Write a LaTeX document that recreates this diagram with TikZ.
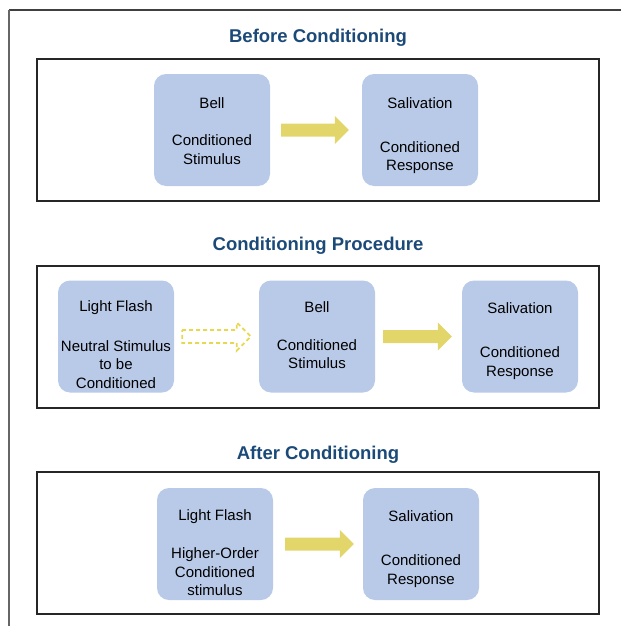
\documentclass[tikz,border=0pt]{standalone}
\usepackage{fontspec}
\setmainfont{Liberation Sans}
\usetikzlibrary{calc}

\definecolor{cardblue}{HTML}{B9CAE8}
\definecolor{arrowyellow}{HTML}{E2D66B}
\definecolor{dashyellow}{HTML}{E6D850}
\definecolor{titleblue}{HTML}{1C4A78}

\tikzset{
  panel/.style={draw=black!85, line width=1.2pt, minimum width=562pt, minimum height=142pt, inner sep=0pt},
  heading/.style={font=\fontsize{18.5}{22}\selectfont\bfseries, text=titleblue, inner sep=0pt},
  card/.style={fill=cardblue, rounded corners=12pt, minimum width=116pt, minimum height=112pt, inner sep=0pt},
  cardtext/.style={font=\fontsize{15}{18.5}\selectfont, align=center, inner sep=0pt},
  solidarrow/.style={fill=arrowyellow},
  ghostarrow/.style={draw=dashyellow, line width=1.8pt, dash pattern=on 4pt off 3pt}
}

% block arrow from coordinate #1 to tip coordinate #2, drawn with style #3
\newcommand{\blockarrow}[3]{%
  \path[#3] ($(#1)+(0,-6.5)$) -- ($(#2)+(-14,-6.5)$) -- ($(#2)+(-14,-14)$) -- (#2)
    -- ($(#2)+(-14,14)$) -- ($(#2)+(-14,6.5)$) -- ($(#1)+(0,6.5)$) -- cycle;}

\begin{document}
\begin{tikzpicture}[x=1pt, y=-1pt]
\useasboundingbox (0,0) rectangle (621,626);

% outer frame
\draw[black!75, line width=1.5pt] (621,10) -- (9,10);
\draw[black!60, line width=1.5pt] (9,10) -- (9,626);

% ---- Before Conditioning ----
\node[heading] (h1) at (318,38) {Before Conditioning};
\node[panel] (p1) at (318,130) {};
\node[card] (c1a) at (212,130) {};
\node[cardtext] (c1a-t) at ([yshift=-29pt]c1a.north) {Bell};
\node[cardtext] (c1a-s) at ([yshift=-76pt]c1a.north) {Conditioned\\Stimulus};
\node[card] (c1b) at (420,130) {};
\node[cardtext] (c1b-t) at ([yshift=-29pt]c1b.north) {Salivation};
\node[cardtext] (c1b-s) at ([yshift=-84pt]c1b.north) {Conditioned\\Response};
\coordinate (a1s) at ([xshift=11pt]c1a.east);
\coordinate (a1e) at ([xshift=-13pt]c1b.west);
\blockarrow{a1s}{a1e}{solidarrow}

% ---- Conditioning Procedure ----
\node[heading] (h2) at (318,246) {Conditioning Procedure};
\node[panel] (p2) at (318,337) {};
\node[card] (c2a) at (116,336.5) {};
\node[cardtext] (c2a-t) at ([yshift=-27pt]c2a.north) {Light Flash};
\node[cardtext] (c2a-s) at ([yshift=-84pt]c2a.north) {Neutral Stimulus\\to be\\Conditioned};
\node[card] (c2b) at (317,336.5) {};
\node[cardtext] (c2b-t) at ([yshift=-27pt]c2b.north) {Bell};
\node[cardtext] (c2b-s) at ([yshift=-74pt]c2b.north) {Conditioned\\Stimulus};
\node[card] (c2c) at (520,336.5) {};
\node[cardtext] (c2c-t) at ([yshift=-28pt]c2c.north) {Salivation};
\node[cardtext] (c2c-s) at ([yshift=-83pt]c2c.north) {Conditioned\\Response};
\coordinate (a2s) at ([xshift=8pt]c2a.east);
\coordinate (a2e) at ([xshift=-8pt]c2b.west);
\blockarrow{a2s}{a2e}{ghostarrow}
\coordinate (a3s) at ([xshift=8pt]c2b.east);
\coordinate (a3e) at ([xshift=-10pt]c2c.west);
\blockarrow{a3s}{a3e}{solidarrow}

% ---- After Conditioning ----
\node[heading] (h3) at (318,455) {After Conditioning};
\node[panel] (p3) at (318,543) {};
\node[card] (c3a) at (215,544) {};
\node[cardtext] (c3a-t) at ([yshift=-29pt]c3a.north) {Light Flash};
\node[cardtext] (c3a-s) at ([yshift=-84pt]c3a.north) {Higher-Order\\Conditioned\\stimulus};
\node[card] (c3b) at (421,544) {};
\node[cardtext] (c3b-t) at ([yshift=-28pt]c3b.north) {Salivation};
\node[cardtext] (c3b-s) at ([yshift=-83.5pt]c3b.north) {Conditioned\\Response};
\coordinate (a4s) at ([xshift=12pt]c3a.east);
\coordinate (a4e) at ([xshift=-9pt]c3b.west);
\blockarrow{a4s}{a4e}{solidarrow}
\end{tikzpicture}
\end{document}
